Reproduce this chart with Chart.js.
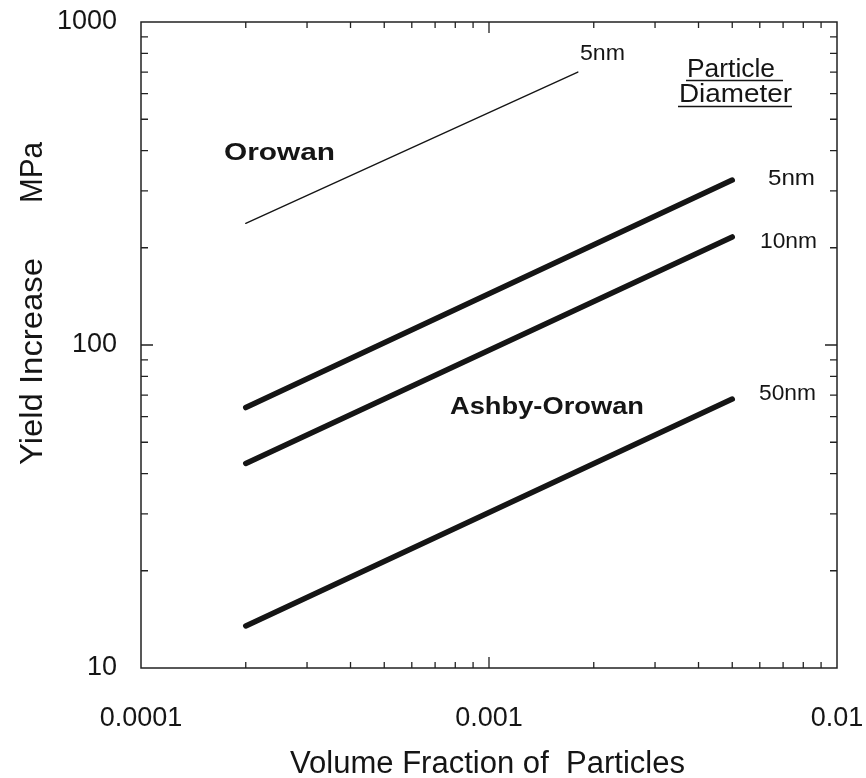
<!DOCTYPE html>
<html>
<head>
<meta charset="utf-8">
<script src="https://cdn.jsdelivr.net/npm/chart.js@4.4.1/dist/chart.umd.min.js"></script>
<style>
html,body{margin:0;padding:0;background:#ffffff;}
#wrap{width:866px;height:778px;}
</style>
</head>
<body>
<div id="wrap"><canvas id="c" width="866" height="778"></canvas></div>
<script>
// ---- data ----
const xTickValues = [0.0001, 0.001, 0.01];
const xTickLabels = ['0.0001', '0.001', '0.01'];
const yTickValues = [10, 100, 1000];
const yTickLabels = ['10', '100', '1000'];
const xMinorValues = [0.0002,0.0003,0.0004,0.0005,0.0006,0.0007,0.0008,0.0009,0.002,0.003,0.004,0.005,0.006,0.007,0.008,0.009];
const yMinorValues = [20,30,40,50,60,70,80,90,200,300,400,500,600,700,800,900];
const aoFraction = [0.0002, 0.005];
const ao5nm = [64, 324];
const ao10nm = [43, 216];
const ao50nm = [13.5, 68];
const orowanFraction = [0.0002, 0.0018];
const orowan5nm = [238, 700];
const seriesNames = ['Orowan 5nm', 'Ashby-Orowan 5nm', 'Ashby-Orowan 10nm', 'Ashby-Orowan 50nm'];

const FONT = '"Liberation Sans", Arial, Helvetica, sans-serif';
const INK = '#151515';

function pts(xs, ys){ return xs.map((x,i)=>({x:x, y:ys[i]})); }

function drawText(ctx, text, x, y, font, targetWidth){
  ctx.save();
  ctx.font = font;
  ctx.fillStyle = INK;
  ctx.textAlign = 'left';
  ctx.textBaseline = 'alphabetic';
  const w = ctx.measureText(text).width;
  const sx = targetWidth ? targetWidth / w : 1;
  ctx.translate(x, y);
  ctx.scale(sx, 1);
  ctx.fillText(text, 0, 0);
  ctx.restore();
}

const framePlugin = {
  id: 'frame',
  afterDraw(chart){
    const ctx = chart.ctx;
    const a = chart.chartArea;
    const xs = chart.scales.x, ys = chart.scales.y;
    ctx.save();
    ctx.strokeStyle = '#222';
    ctx.lineWidth = 1.5;
    ctx.strokeRect(a.left, a.top, a.right - a.left, a.bottom - a.top);
    ctx.lineWidth = 1.3;
    ctx.beginPath();
    const xTicks = xMinorValues.map(v=>[v,6]).concat([[0.001,11]]);
    xTicks.forEach(([v,len])=>{
      const px = xs.getPixelForValue(v);
      ctx.moveTo(px, a.bottom); ctx.lineTo(px, a.bottom - len);
      ctx.moveTo(px, a.top); ctx.lineTo(px, a.top + len);
    });
    const yTicks = yMinorValues.map(v=>[v,7]).concat([[100,12]]);
    yTicks.forEach(([v,len])=>{
      const py = ys.getPixelForValue(v);
      ctx.moveTo(a.left, py); ctx.lineTo(a.left + len, py);
      ctx.moveTo(a.right, py); ctx.lineTo(a.right - len, py);
    });
    ctx.stroke();
    ctx.restore();

    // annotations
    drawText(ctx, 'Orowan', 224, 160, 'bold 23px ' + FONT, 111);
    drawText(ctx, 'Ashby-Orowan', 450, 414, 'bold 23px ' + FONT, 194);
    drawText(ctx, '5nm', 580, 60, '22px ' + FONT, 45);
    drawText(ctx, 'Particle', 687, 77, '25px ' + FONT, 88);
    drawText(ctx, 'Diameter', 679, 102, '25px ' + FONT, 113);
    ctx.save();
    ctx.strokeStyle = INK; ctx.lineWidth = 1.6;
    ctx.beginPath();
    ctx.moveTo(686, 80.5); ctx.lineTo(783, 80.5);
    ctx.moveTo(678, 106.5); ctx.lineTo(792, 106.5);
    ctx.stroke();
    ctx.restore();
    drawText(ctx, '5nm', 768, 185, '22px ' + FONT, 47);
    drawText(ctx, '10nm', 760, 248, '22px ' + FONT, 57);
    drawText(ctx, '50nm', 759, 400, '22px ' + FONT, 57);

    // axis titles
    drawText(ctx, 'Volume Fraction of  Particles', 290, 773, '31px ' + FONT, 395);
    ctx.save();
    ctx.translate(42, 465);
    ctx.rotate(-Math.PI/2);
    drawText(ctx, 'Yield Increase', 0, 0, '32px ' + FONT, 207);
    ctx.restore();
    ctx.save();
    ctx.translate(42, 203);
    ctx.rotate(-Math.PI/2);
    drawText(ctx, 'MPa', 0, 0, '32px ' + FONT, 61);
    ctx.restore();
  }
};

const lineDs = (label, xs, ys, w) => ({
  label: label,
  data: pts(xs, ys),
  borderColor: INK,
  backgroundColor: INK,
  borderWidth: w,
  pointRadius: 0,
  tension: 0,
  fill: false,
  borderCapStyle: 'round'
});

new Chart(document.getElementById('c'), {
  type: 'line',
  data: {
    datasets: [
      lineDs(seriesNames[0], orowanFraction, orowan5nm, 1.4),
      lineDs(seriesNames[1], aoFraction, ao5nm, 5.5),
      lineDs(seriesNames[2], aoFraction, ao10nm, 5.5),
      lineDs(seriesNames[3], aoFraction, ao50nm, 5.5)
    ]
  },
  options: {
    responsive: false,
    animation: false,
    devicePixelRatio: 1,
    layout: { padding: { left: 0, right: 29, top: 22, bottom: 0 } },
    plugins: { legend: { display: false }, tooltip: { enabled: false }, title: { display: false } },
    scales: {
      x: {
        type: 'logarithmic',
        position: 'bottom',
        min: 0.0001, max: 0.01,
        grid: { display: false },
        border: { display: false },
        ticks: {
          autoSkip: false, maxRotation: 0, padding: 26,
          color: INK,
          font: { family: FONT, size: 27 },
          callback: (v) => { const i = xTickValues.indexOf(v); return i >= 0 ? xTickLabels[i] : ''; }
        },
        afterBuildTicks: (s) => { s.ticks = xTickValues.map(v => ({ value: v })); },
        afterFit: (s) => { s.height = 110; s.paddingLeft = 0; s.paddingRight = 0; s.paddingTop = 0; s.paddingBottom = 0; }
      },
      y: {
        type: 'logarithmic',
        position: 'left',
        min: 10, max: 1000,
        grid: { display: false },
        border: { display: false },
        ticks: {
          autoSkip: false, padding: 16,
          color: INK,
          font: { family: FONT, size: 27 },
          callback: (v) => { const i = yTickValues.indexOf(v); return i >= 0 ? yTickLabels[i] : ''; }
        },
        afterBuildTicks: (s) => { s.ticks = yTickValues.map(v => ({ value: v })); },
        afterFit: (s) => { s.width = 141; s.paddingLeft = 0; s.paddingRight = 0; s.paddingTop = 0; s.paddingBottom = 0; }
      }
    }
  },
  plugins: [framePlugin]
});
</script>
</body>
</html>
